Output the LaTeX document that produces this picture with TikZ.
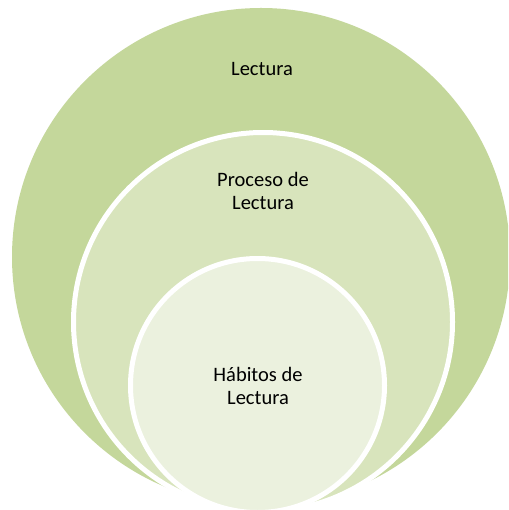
\documentclass[tikz,border=0pt]{standalone}
\usepackage{fontspec}
\setmainfont{Carlito}
\definecolor{ringA}{RGB}{196,215,155}
\definecolor{ringB}{RGB}{216,228,188}
\definecolor{ringC}{RGB}{235,241,222}

\begin{document}
\begin{tikzpicture}[x=1pt,y=-1pt,
    ring/.style={circle,draw=white,line width=5pt,inner sep=0pt},
    lbl/.style={align=center,text=black,font=\fontsize{20.5}{22.5}\selectfont}]
    \useasboundingbox (0,0) rectangle (508,510);
    \clip (0,0) rectangle (508,510);
    \fill [white] (0,0) rectangle (508,510);

    \node [ring, draw=none, fill=ringA, minimum size=498] (lectura) at (261,257) {};
    \node [ring, fill=ringB, minimum size=379] (proceso) at (263,322) {};
    \node [ring, fill=ringC, minimum size=254] (habitos) at (257.5,385.5) {};

    \node [lbl] (lectura text) at (262,69) {Lectura};
    \node [lbl] (proceso text) at (263,191) {Proceso de\\Lectura};
    \node [lbl] (habitos text) at (258,386) {Hábitos de\\Lectura};
\end{tikzpicture}
\end{document}
